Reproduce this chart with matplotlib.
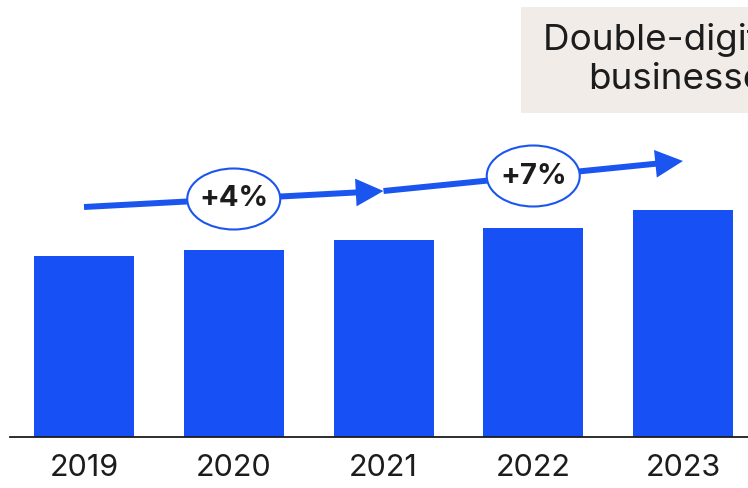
import matplotlib
matplotlib.use("Agg")
import matplotlib.pyplot as plt
from matplotlib.patches import Ellipse, FancyArrowPatch, Rectangle

plt.rcParams["font.family"] = ["Inter", "DejaVu Sans"]

years = ["2019", "2020", "2021", "2022", "2023"]
values = [181, 187, 197, 209, 227]
# trend arrow levels at 2019, 2021, 2023 and growth labels per span
trend_idx = [0, 2, 4]
trend_levels = [230, 246, 276]
growth_labels = ["+4%", "+7%"]

BLUE = "#1751f5"
ARROW = "#1a55f0"
INK = "#1c1c1c"

W, H = 748, 488
fig = plt.figure(figsize=(W / 100, H / 100), dpi=100)
ax = fig.add_axes([10 / W, 51 / H, 738 / W, 437 / H])

x = list(range(len(years)))
ax.bar(x, values, width=100 / 149.75, color=BLUE, zorder=2)
ax.set_xlim((10 - 84) / 149.75, (748 - 84) / 149.75)
ax.set_ylim(0, 437)

for s in ["top", "left", "right"]:
    ax.spines[s].set_visible(False)
ax.spines["bottom"].set_linewidth(1.3)
ax.spines["bottom"].set_color(INK)
ax.set_yticks([])
ax.set_xticks(x)
ax.set_xticklabels(years, fontsize=22, color=INK)
ax.tick_params(axis="x", length=0, pad=12)

for k in range(len(growth_labels)):
    x0, x1 = trend_idx[k], trend_idx[k + 1]
    y0, y1 = trend_levels[k], trend_levels[k + 1]
    arr = FancyArrowPatch((x0, y0), (x1, y1),
                          arrowstyle="-|>,head_length=13,head_width=6.5",
                          mutation_scale=1, linewidth=4.3, color=ARROW,
                          shrinkA=0, shrinkB=0, capstyle="butt",
                          joinstyle="miter", zorder=3)
    ax.add_patch(arr)
    xm, ym = (x0 + x1) / 2, (y0 + y1) / 2
    ax.add_patch(Ellipse((xm, ym), 93 / 149.75, 61, facecolor="white",
                         edgecolor=ARROW, linewidth=1.5, zorder=4))
    ax.text(xm, ym, growth_labels[k], ha="center", va="center",
            fontsize=21, fontweight="bold", color=INK, zorder=5)

# callout box at top right (cut off by the figure edge)
fig.patches.append(Rectangle((521 / W, 1 - 113 / H), 240 / W, 106 / H,
                             transform=fig.transFigure, facecolor="#f1ece8",
                             edgecolor="none", zorder=0))
fig.text(543 / W, 1 - 50 / H, "Double-digit growth", fontsize=26.5,
         color=INK, va="baseline", ha="left")
fig.text(588 / W, 1 - 89 / H, "businesses", fontsize=26.5,
         color=INK, va="baseline", ha="left")

fig.savefig("out.png", dpi=100)
